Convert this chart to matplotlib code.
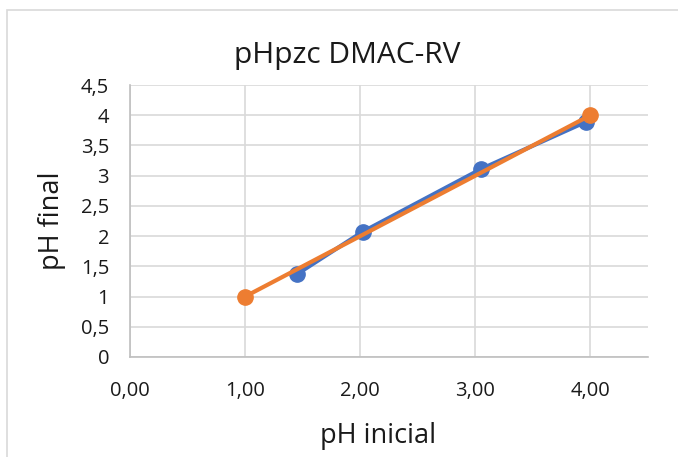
import matplotlib
matplotlib.use("Agg")
import matplotlib.pyplot as plt
from matplotlib.patches import Rectangle

# Data
ph_inicial_exp = [1.45, 2.02, 3.05, 3.96]
ph_final_exp = [1.37, 2.07, 3.11, 3.89]
ph_inicial_ref = [1.0, 4.0]
ph_final_ref = [1.0, 4.0]

x_ticks = [0, 1, 2, 3, 4]
x_tick_labels = ["0,00", "1,00", "2,00", "3,00", "4,00"]
y_ticks = [0, 0.5, 1, 1.5, 2, 2.5, 3, 3.5, 4, 4.5]
y_tick_labels = ["0", "0,5", "1", "1,5", "2", "2,5", "3", "3,5", "4", "4,5"]

plt.rcParams["font.family"] = ["Open Sans", "DejaVu Sans"]

W, H = 678, 457
fig = plt.figure(figsize=(W / 100, H / 100), dpi=100)
fig.patch.set_facecolor("white")

# chart area border (top and left edges visible)
fig.add_artist(Rectangle((7 / W, -0.05), 1.2, 1 - 10 / H + 0.05,
                         transform=fig.transFigure, fill=False,
                         edgecolor="#D9D9D9", linewidth=1.2))

ax = fig.add_axes([130 / W, 1 - 357 / H, (648 - 130) / W, (357 - 85) / H])
ax.set_xlim(0, 4.5)
ax.set_ylim(0, 4.5)

ax.set_xticks(x_ticks)
ax.set_xticklabels(x_tick_labels)
ax.set_yticks(y_ticks)
ax.set_yticklabels(y_tick_labels)
ax.tick_params(axis="both", length=0, labelsize=14.5, labelcolor="#1a1a1a")
ax.tick_params(axis="x", pad=17)
ax.tick_params(axis="y", pad=15)

ax.grid(True, color="#D9D9D9", linewidth=1.2)
ax.set_axisbelow(True)
for side in ["top", "right"]:
    ax.spines[side].set_visible(False)
for side in ["left", "bottom"]:
    ax.spines[side].set_color("#BFBFBF")
    ax.spines[side].set_linewidth(1.2)

ax.plot(ph_inicial_exp, ph_final_exp, color="#4472C4", linewidth=3,
        marker="o", markersize=11, solid_capstyle="round", zorder=3)
ax.plot(ph_inicial_ref, ph_final_ref, color="#ED7D31", linewidth=3,
        marker="o", markersize=11, solid_capstyle="round", zorder=4)

fig.text(347 / W, 1 - 63 / H, "pHpzc DMAC-RV", ha="center", va="baseline",
         fontsize=21.5, color="#1a1a1a")
fig.text(378 / W, 1 - 443 / H, "pH inicial", ha="center", va="baseline",
         fontsize=19.5, color="#1a1a1a")
fig.text(52 / W, 1 - 221 / H, "pH final", ha="center", va="center",
         fontsize=19.5, rotation=90, color="#1a1a1a")

fig.savefig("out.png", dpi=100)
